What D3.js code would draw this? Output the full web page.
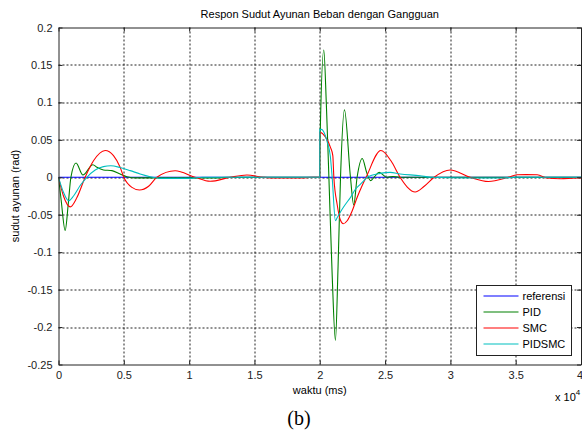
<!DOCTYPE html>
<html>
<head>
<meta charset="utf-8">
<script src="https://cdn.jsdelivr.net/npm/d3@7"></script>
<style>
  body { margin: 0; background: #fff; }
  text { font-family: "Liberation Sans", Arial, sans-serif; fill: #000; }
</style>
</head>
<body>
<div id="chart"></div>
<script>
// x axis in ms, y axis in rad
var xTicks = [0, 5000, 10000, 15000, 20000, 25000, 30000, 35000, 40000];
var xTickLabels = ["0", "0.5", "1", "1.5", "2", "2.5", "3", "3.5", "4"];
var yTicks = [-0.25, -0.2, -0.15, -0.1, -0.05, 0, 0.05, 0.1, 0.15, 0.2];
var yTickLabels = ["-0.25", "-0.2", "-0.15", "-0.1", "-0.05", "0", "0.05", "0.1", "0.15", "0.2"];

var seriesNames = ["referensi", "PID", "SMC", "PIDSMC"];
var seriesColors = ["#0000ff", "#008000", "#ff0000", "#00bfbf"];

// referensi
var refT = [0, 40000];
var refV = [0, 0];

// PID
var pidT = [0, 200, 510, 750, 950, 1340, 1870, 2630, 2940, 3440, 4090, 4720, 5240, 6000, 12000, 13000,
            20000, 20001, 20030, 20310, 20500, 20700, 20950, 21200, 21400, 21590, 21890, 22350, 22600,
            22860, 23250, 23600, 23900, 24200, 24550, 25140, 25600, 26150, 40000];
var pidV = [0, -0.03, -0.071, -0.035, 0, 0.019, 0.003, 0.0168, 0.0133, 0.0098, 0.0089, 0.0044, 0.0008, -0.0008, -0.0008, 0,
            0, 0.017, 0.053, 0.170, 0.10, 0, -0.13, -0.218, -0.12, 0, 0.090, 0, -0.037,
            0, 0.025, 0.006, -0.0045, 0.001, 0.0065, 0, 0.001, 0, 0];

// SMC
var smcT = [0, 380, 900, 1410, 2040, 2680, 3570, 4210, 4720, 5000, 5620, 6200, 6900, 7530, 8930, 10450,
            11610, 13140, 14420, 15670, 16500, 18500, 19500,
            20000, 20001, 20430, 20820, 21000, 21080, 21330, 21580, 21800, 22100, 22480, 22860, 23250,
            23550, 24680, 25450, 26150, 26700, 27300, 28000, 28760, 29980, 31510, 32910, 34440,
            35100, 35800, 36650, 37400, 38400, 39700, 40000];
var smcV = [0, -0.025, -0.0395, -0.027, 0, 0.022, 0.0357, 0.029, 0.0133, 0, -0.0135, -0.017, -0.012, 0, 0.0087, 0,
            -0.0054, 0, 0.003, 0, -0.001, -0.001, 0,
            0, 0.060, 0.054, 0.040, 0.029, 0, -0.036, -0.057, -0.062, -0.058, -0.045, -0.027, -0.011,
            0, 0.0357, 0.022, 0, -0.013, -0.0197, -0.012, 0, 0.0097, 0, -0.0056, 0,
            0.0033, 0.0035, 0.0033, -0.001, -0.002, -0.001, -0.001];

// PIDSMC
var pidsmcT = [0, 380, 770, 1150, 1660, 2170, 2810, 3440, 4000, 4720, 5490, 6250, 7020, 8000, 10000, 11000,
               20000, 20001, 20130, 20560, 20810, 20950, 21200, 21330, 21700, 21970, 22350, 22730, 23120,
               23500, 23630, 24620, 25390, 26150, 27690, 28460, 31500, 34000, 35000, 40000];
var pidsmcV = [0, -0.020, -0.0314, -0.025, -0.011, 0, 0.0098, 0.0142, 0.0153, 0.013, 0.0089, 0.0044, 0.0008, -0.0015, -0.0015, 0,
               0, 0.064, 0.064, 0.048, 0.028, 0, -0.058, -0.054, -0.043, -0.036, -0.027, -0.016, -0.009,
               -0.0023, 0, 0.0052, 0.0066, 0.0044, 0.0021, 0, -0.001, -0.001, 0, 0];

var seriesT = [refT, pidT, smcT, pidsmcT];
var seriesV = [refV, pidV, smcV, pidsmcV];

var W = 582, H = 432;
var margin = {left: 58.5, top: 27.5, right: 1, bottom: 67.5};
var pw = W - margin.left - margin.right;
var ph = H - margin.top - margin.bottom;

var svg = d3.select("#chart").append("svg")
    .attr("width", W)
    .attr("height", H);

svg.append("rect").attr("width", W).attr("height", H).attr("fill", "#fff");

var g = svg.append("g").attr("transform", "translate(" + margin.left + "," + margin.top + ")");

var x = d3.scaleLinear().domain([0, 40000]).range([0, pw]);
var y = d3.scaleLinear().domain([-0.25, 0.2]).range([ph, 0]);

// grid
g.selectAll(".vgrid")
  .data(xTicks.slice(1, -1))
  .enter().append("line")
  .attr("x1", function(d){ return Math.round(x(d)) + 0.5; })
  .attr("x2", function(d){ return Math.round(x(d)) + 0.5; })
  .attr("y1", 0).attr("y2", ph)
  .style("stroke", "#222").style("stroke-width", 1).style("stroke-dasharray", "2,2");

g.selectAll(".hgrid")
  .data(yTicks.slice(1, -1))
  .enter().append("line")
  .attr("y1", function(d){ return Math.round(y(d)) + 0.5; })
  .attr("y2", function(d){ return Math.round(y(d)) + 0.5; })
  .attr("x1", 0).attr("x2", pw)
  .style("stroke", "#222").style("stroke-width", 1).style("stroke-dasharray", "2,2");

// lines
svg.append("defs").append("clipPath").attr("id", "clip")
  .append("rect").attr("width", pw).attr("height", ph);

var line = d3.line()
  .x(function(d){ return x(d[0]); })
  .y(function(d){ return y(d[1]); })
  .curve(d3.curveMonotoneX);

var plot = g.append("g").attr("clip-path", "url(#clip)");
seriesNames.forEach(function(name, i){
  var pts = seriesT[i].map(function(t, j){ return [t, seriesV[i][j]]; });
  plot.append("path")
    .datum(pts)
    .attr("d", line)
    .style("fill", "none")
    .style("stroke", seriesColors[i])
    .style("stroke-width", 1.1);
});

// axes (MATLAB style: ticks inside, box all around)
var xAxis = d3.axisBottom(x).tickValues(xTicks).tickSizeInner(-4).tickSizeOuter(0)
  .tickFormat(function(d, i){ return xTickLabels[i]; });
var yAxis = d3.axisLeft(y).tickValues(yTicks).tickSizeInner(-4).tickSizeOuter(0)
  .tickFormat(function(d, i){ return yTickLabels[i]; });

var gx = g.append("g").attr("transform", "translate(0," + ph + ")").call(xAxis);
gx.selectAll("text").attr("dy", "0").attr("y", 14).style("font-size", "11px").style("fill", "#222");
// last label sits at the figure edge, keep it inside
gx.selectAll(".tick text").filter(function(d){ return d === 40000; })
  .attr("text-anchor", "end").attr("x", margin.right + 0.5);
var gy = g.append("g").call(yAxis);
gy.selectAll("text").attr("x", -6).style("font-size", "11px").style("fill", "#222");

g.append("g").call(d3.axisTop(x).tickValues(xTicks).tickSizeInner(-4).tickSizeOuter(0).tickFormat(""));
g.append("g").attr("transform", "translate(" + pw + ",0)")
  .call(d3.axisRight(y).tickValues(yTicks).tickSizeInner(-4).tickSizeOuter(0).tickFormat(""));

g.selectAll(".domain").style("stroke", "#222");
g.selectAll(".tick line").style("stroke", "#222");

// labels
svg.append("text")
  .attr("x", margin.left + pw / 2).attr("y", 18)
  .attr("text-anchor", "middle").style("font-size", "11px")
  .text("Respon Sudut Ayunan Beban dengan Gangguan");

svg.append("text")
  .attr("x", margin.left + pw / 2).attr("y", 394)
  .attr("text-anchor", "middle").style("font-size", "11px")
  .text("waktu (ms)");

svg.append("text")
  .attr("transform", "translate(19," + (margin.top + ph / 2) + ") rotate(-90)")
  .attr("text-anchor", "middle").style("font-size", "11px")
  .text("sudut ayunan (rad)");

var xs = svg.append("text").attr("x", 555).attr("y", 401).style("font-size", "11px");
xs.append("tspan").text("x 10");
xs.append("tspan").attr("dy", -6).style("font-size", "8px").text("4");

svg.append("text")
  .attr("x", 299).attr("y", 425)
  .attr("text-anchor", "middle")
  .style("font-family", "'Liberation Serif', 'Times New Roman', serif")
  .style("font-size", "20px")
  .text("(b)");

// legend
var legend = svg.append("g").attr("transform", "translate(476.5,285.5)");
legend.append("rect")
  .attr("width", 95).attr("height", 70)
  .style("fill", "#fff").style("stroke", "#222").style("stroke-width", 1);
legend.selectAll("line.leg")
  .data(seriesNames).enter().append("line")
  .attr("x1", 7).attr("x2", 42)
  .attr("y1", function(d, i){ return 10.5 + i * 16; })
  .attr("y2", function(d, i){ return 10.5 + i * 16; })
  .style("stroke", function(d, i){ return seriesColors[i]; })
  .style("stroke-width", 1.1);
legend.selectAll("text")
  .data(seriesNames).enter().append("text")
  .attr("x", 46)
  .attr("y", function(d, i){ return 10.5 + i * 16; })
  .attr("dy", "0.35em")
  .style("font-size", "11px")
  .text(function(d){ return d; });
</script>
</body>
</html>
